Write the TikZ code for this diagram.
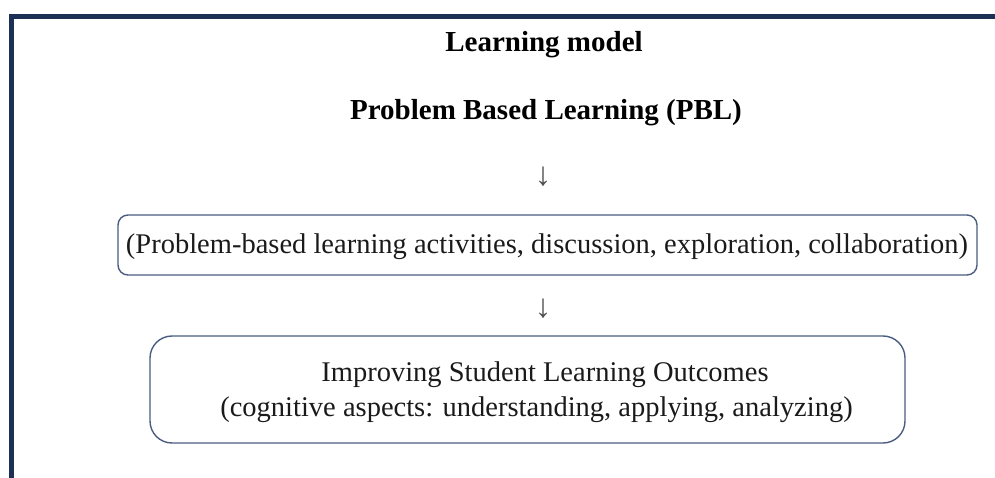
\documentclass[tikz,border=0pt]{standalone}
\usepackage{fontspec}
\setmainfont{Liberation Serif}
\definecolor{framenavy}{HTML}{1C2F55}
\definecolor{boxedge}{HTML}{4A5C80}
\definecolor{textgray}{HTML}{1A1A1A}
\definecolor{arrowgray}{HTML}{505050}
\begin{document}
\begin{tikzpicture}[x=1pt,y=-1pt,
  titletext/.style={font=\fontsize{29}{33}\selectfont\bfseries, text=black, inner sep=0pt},
  bodytext/.style={font=\fontsize{28.5}{33}\selectfont, text=textgray, inner sep=0pt},
  arrowglyph/.style={font=\fontsize{33}{36}\selectfont, text=arrowgray, inner sep=0pt},
  stagebox/.style={draw=boxedge, line width=1.4pt, inner sep=0pt}
]
\useasboundingbox (0,0) rectangle (995,478);
% page frame: left and top rule
\draw[framenavy, line width=5pt, line join=miter] (11.5,478) -- (11.5,16.5) -- (995,16.5);

% headings
\node[titletext] (model) at (544,45) {Learning model};
\node[titletext] (pbl) at (546,113) {Problem Based Learning (PBL)};
\node[arrowglyph] (down1) at (543,177) {↓};

% activities box
\node[stagebox, rounded corners=10pt, minimum width=859pt, minimum height=60pt] (actbox) at (547.5,245) {};
\node[bodytext] (acttext) at (547,247) {(Problem-based learning activities, discussion, exploration, collaboration)};

\node[arrowglyph] (down2) at (543,309) {↓};

% outcomes box
\node[stagebox, rounded corners=22pt, minimum width=755pt, minimum height=107pt] (outbox) at (527.5,389.5) {};
\node[bodytext] (outline1) at (545,374.5) {Improving Student Learning Outcomes};
\node[bodytext] (outline2) at (536.5,409.5) {(cognitive aspects: understanding, applying, analyzing)};
\end{tikzpicture}
\end{document}
